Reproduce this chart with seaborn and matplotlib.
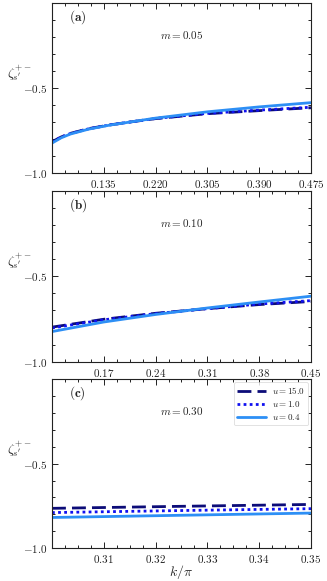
import numpy as np
import pandas as pd
import matplotlib
matplotlib.use("Agg")
import matplotlib.pyplot as plt
from matplotlib.ticker import MultipleLocator, AutoMinorLocator
import seaborn as sns

# ---- data ----
u_labels = ["u=15.0", "u=1.0", "u=0.4"]
m_labels = ["0.05", "0.10", "0.30"]
panel_letters = ["a", "b", "c"]

k_a = [0.05, 0.065, 0.08, 0.11, 0.145, 0.18, 0.22, 0.305, 0.39, 0.475]
a_u15 = [-0.816, -0.788, -0.767, -0.739, -0.717, -0.699, -0.680, -0.651, -0.633, -0.616]
a_u1 = [-0.818, -0.789, -0.768, -0.740, -0.717, -0.699, -0.679, -0.649, -0.630, -0.613]
a_u04 = [-0.824, -0.793, -0.771, -0.742, -0.718, -0.699, -0.677, -0.640, -0.611, -0.586]

k_b = [0.10, 0.17, 0.24, 0.31, 0.38, 0.45]
b_u15 = [-0.798, -0.752, -0.717, -0.690, -0.666, -0.648]
b_u1 = [-0.803, -0.755, -0.719, -0.690, -0.663, -0.643]
b_u04 = [-0.824, -0.768, -0.724, -0.686, -0.651, -0.617]

k_c = [0.30, 0.325, 0.35]
c_u15 = [-0.764, -0.752, -0.741]
c_u1 = [-0.789, -0.777, -0.766]
c_u04 = [-0.818, -0.805, -0.792]

xticks_a = [0.135, 0.220, 0.305, 0.390, 0.475]
xticks_b = [0.17, 0.24, 0.31, 0.38, 0.45]
xticks_c = [0.31, 0.32, 0.33, 0.34, 0.35]
xtick_labels_a = ["0.135", "0.220", "0.305", "0.390", "0.475"]
xtick_labels_b = ["0.17", "0.24", "0.31", "0.38", "0.45"]
xtick_labels_c = ["0.31", "0.32", "0.33", "0.34", "0.35"]
xlims = [(0.05, 0.475), (0.10, 0.45), (0.30, 0.35)]
yticks = [-1.0, -0.5]
ytick_labels = ["-1.0", "-0.5"]

panels = [
    (k_a, [a_u15, a_u1, a_u04], xticks_a, xtick_labels_a),
    (k_b, [b_u15, b_u1, b_u04], xticks_b, xtick_labels_b),
    (k_c, [c_u15, c_u1, c_u04], xticks_c, xtick_labels_c),
]

# ---- style ----
sns.set_style("ticks")
plt.rcParams["mathtext.fontset"] = "cm"
plt.rcParams["font.family"] = ["DejaVu Serif"]

colors = ["#0c0c78", "#1010f0", "#2d8ff5"]
styles = [(0, (5, 2.2)), (0, (1, 1.2)), "-"]

fig = plt.figure(figsize=(3.27, 5.81), dpi=100)
positions = [
    [0.159, 0.7022, 0.792, 0.2926],
    [0.159, 0.3775, 0.792, 0.2943],
    [0.159, 0.0563, 0.792, 0.2914],
]

for i, (pos, (k, series, xt, xtl)) in enumerate(zip(positions, panels)):
    ax = fig.add_axes(pos)
    for lab, vals, c, ls in zip(u_labels, series, colors, styles):
        df = pd.DataFrame({"k": k, "zeta": vals})
        num = lab.split("=")[1]
        sns.lineplot(data=df, x="k", y="zeta", ax=ax, color=c, linestyle=ls,
                     linewidth=2.0, label=r"$u=%s$" % num, legend=(i == 2))
    ax.set_xlim(*xlims[i])
    ax.set_ylim(-1.0, 0.0)
    ax.set_xticks(xt)
    ax.set_xticklabels([r"$%s$" % t for t in xtl], fontsize=8)
    ax.set_yticks(yticks)
    ax.set_yticklabels([r"$%s$" % t for t in ytick_labels], fontsize=8)
    ax.xaxis.set_minor_locator(AutoMinorLocator(4))
    ax.yaxis.set_minor_locator(MultipleLocator(0.1))
    ax.tick_params(which="both", direction="in", top=True, right=True,
                   width=0.7, colors="#222222")
    ax.tick_params(which="major", length=4.5)
    ax.tick_params(which="minor", length=2.5)
    for s in ax.spines.values():
        s.set_linewidth(0.8)
        s.set_color("#222222")
    ax.set_xlabel("")
    ax.set_ylabel(r"$\zeta_{s'}^{+-}$", rotation=0, fontsize=9.5)
    ax.yaxis.set_label_coords(-0.125, 0.53)
    ax.text(0.10, 0.915, r"$(\mathbf{%s})$" % panel_letters[i], transform=ax.transAxes,
            fontsize=9.5, ha="center", va="center")
    ax.text(0.50, 0.81, r"$m=%s$" % m_labels[i], transform=ax.transAxes,
            fontsize=8, ha="center", va="center")
    if i == 2:
        ax.set_xlabel(r"$k/\pi$", fontsize=10, labelpad=-1.5)
        leg = ax.legend(loc="upper right", fontsize=6.5, frameon=True,
                        handlelength=3.2, borderaxespad=0.3, labelspacing=0.3,
                        handletextpad=0.6, borderpad=0.4)
        leg.get_frame().set_linewidth(0.5)

fig.savefig("out.png", dpi=100)
